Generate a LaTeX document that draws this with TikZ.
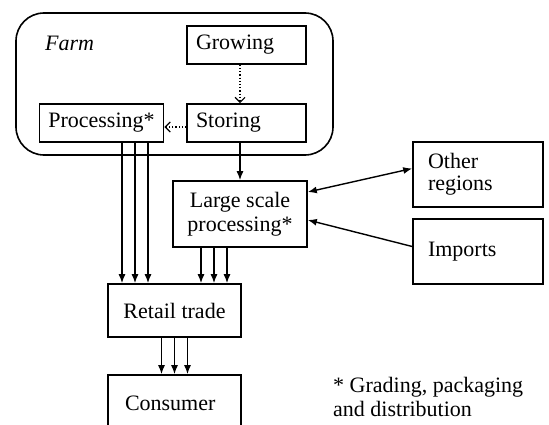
\documentclass[tikz,border=0pt]{standalone}
\usepackage{fontspec}
\setmainfont{Liberation Serif}
\usetikzlibrary{positioning,calc,arrows.meta}
\def\txt{\fontsize{22}{24}\selectfont}
\tikzset{box/.style={draw,line width=1.6pt,inner xsep=9pt,inner ysep=0pt,font=\txt}  }
\tikzset{lbox/.style={box,align=left}  }
\tikzset{>={Latex[length=9pt,width=7pt]}}
\tikzset{arr/.style={->,line width=1.4pt}  }
\tikzset{dotarr/.style={-{Straight Barb[length=5pt,width=10pt]},dash pattern=on 1.2pt off 2pt,line width=1.2pt}  }

\begin{document}
\begin{tikzpicture}[x=1pt,y=-1pt]
	\useasboundingbox (0,0) rectangle (549,425);
	\clip (0,0) rectangle (549,425);

		% farm
		\draw[rounded corners=28pt,line width=1.6pt] (16,13) rectangle (333,155);
		\node[anchor=west,inner sep=0pt,font=\txt\itshape] (farm) at (45,43) {Farm};
			\node[lbox,text width=101pt,minimum height=38pt] (grow) at (246.5,45) {Growing};
			\node[lbox,text width=101pt,minimum height=38pt] (stor) at (246.5,123) {Storing};
			\node[box,minimum width=119pt,minimum height=38pt] (proc) at (101.5,123) {Processing*};

		\node[box,align=center,minimum width=134pt,minimum height=66pt] (large) at (240,214) {Large scale\\processing*};
		\node[lbox,inner xsep=15pt,text width=100pt,minimum height=65pt] (other) at (478,174.5) {Other\\[-2pt]regions\\[4pt]};
		\node[lbox,inner xsep=15pt,text width=100pt,minimum height=65pt] (imp) at (478,251.5) {Imports};
		\node[box,minimum width=133pt,minimum height=53pt] (retail) at (174.5,310.5) {Retail trade};
		\node[lbox,inner xsep=17pt,text width=99pt,minimum height=56pt] (cons) at (174.5,403) {Consumer};

		\node[anchor=north west,align=left,inner sep=0pt,font=\txt] (note) at (333,377) {* Grading, packaging\\and distribution};

			\draw[dotarr] (grow.south -| large.north) -- (stor.north -| large.north);
			\draw[dotarr] ([yshift=-4pt]stor.west) -- ([yshift=-4pt]proc.east);
			\draw[arr] (stor.south -| large.north) -- (large.north);

			\draw[arr,<->] ([yshift=22pt]large.east) -- ([yshift=6pt]other.west);
			\draw[arr] ([yshift=5pt]imp.west) -- ([yshift=-6pt]large.east);

			\foreach \dx in {20.5,33.5,46.5}
				\draw[arr] ($(proc.south)+(\dx,0)$) -- ($(proc.south |- retail.north)+(\dx,0)$);
			\foreach \dx in {-39,-26,-13}
				\draw[arr] ($(large.south)+(\dx,0)$) -- ($(large.south |- retail.north)+(\dx,0)$);
			\foreach \dx in {-13,0,13}
				\draw[arr] ($(retail.south)+(\dx,0)$) -- ($(retail.south |- cons.north)+(\dx,0)$);
	\end{tikzpicture}
\end{document}
